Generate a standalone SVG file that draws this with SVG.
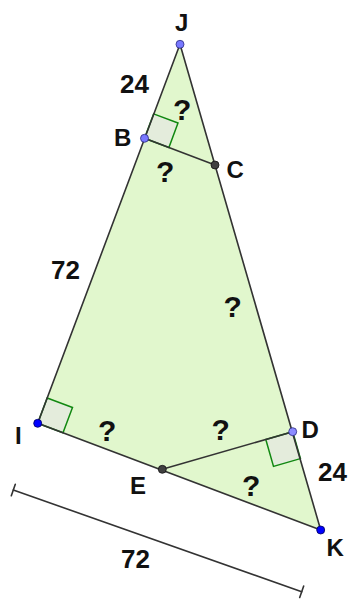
<svg xmlns="http://www.w3.org/2000/svg" width="348" height="603" viewBox="0 0 348 603">
<style>
.side{stroke:#333;stroke-width:1.6;fill:none;stroke-linecap:round}
.ra{fill:#e4ecdc;stroke:#118811;stroke-width:1.5}
.lbl{font-family:"Liberation Sans",Arial,sans-serif;font-weight:bold;font-size:24px;fill:#111}
.num{font-size:26px}
.q{font-size:30px}
.pb{fill:#0000ff;stroke:#00005a;stroke-width:0.8}
.pl{fill:#7878ff;stroke:#2a2a80;stroke-width:0.8}
.pd{fill:#404040;stroke:#111;stroke-width:0.8}
</style>
<rect width="348" height="603" fill="#fff"/>
<g id="triangle">
<polygon points="180,44.3 37.7,423.3 320.7,530" fill="#e1f7cd" stroke="none"/>
</g>
<g id="right-angles">
<polygon class="ra" points="144.5,138.3 153.6,113.9 178,123 168.9,147.5"/>
<polygon class="ra" points="37.7,423.3 47.2,398 72.5,407.5 63,432.8"/>
<polygon class="ra" points="292.7,431.7 265.8,439.5 273.5,466.4 300.4,458.6"/>
</g>
<g id="connectors">
<line class="side" x1="180" y1="44.3" x2="37.7" y2="423.3"/>
<line class="side" x1="180" y1="44.3" x2="320.7" y2="530"/>
<line class="side" x1="37.7" y1="423.3" x2="320.7" y2="530"/>
<line class="side" x1="144.5" y1="138.3" x2="215" y2="165"/>
<line class="side" x1="162.3" y1="469.3" x2="292.7" y2="431.7"/>
<line class="side" x1="13.3" y1="490" x2="301.7" y2="591.7"/>
<line class="side" x1="15.3" y1="484.3" x2="11.3" y2="495.7"/>
<line class="side" x1="303.7" y1="586" x2="299.7" y2="597.4"/>
</g>
<g id="J"><circle class="pl" cx="180" cy="44.3" r="4"/><text class="lbl" x="175" y="31">J</text></g>
<g id="B"><circle class="pl" cx="144.5" cy="138.3" r="4"/><text class="lbl" x="114" y="146">B</text></g>
<g id="C"><circle class="pd" cx="215" cy="165" r="4"/><text class="lbl" x="226.5" y="178">C</text></g>
<g id="I"><circle class="pb" cx="37.7" cy="423.3" r="4"/><text class="lbl" x="15" y="444">I</text></g>
<g id="D"><circle class="pl" cx="292.7" cy="431.7" r="4" style="fill:#8c8cff"/><text class="lbl" x="301.5" y="438">D</text></g>
<g id="E"><circle class="pd" cx="162.3" cy="469.3" r="4"/><text class="lbl" x="130" y="494">E</text></g>
<g id="K"><circle class="pb" cx="320.7" cy="530" r="4"/><text class="lbl" x="326.5" y="556">K</text></g>
<g id="labels">
<text class="lbl num" x="120" y="93">24</text>
<text class="lbl num" x="51" y="279">72</text>
<text class="lbl num" x="318" y="481">24</text>
<text class="lbl num" x="121" y="568">72</text>
<text class="lbl q" x="173" y="120">?</text>
<text class="lbl q" x="156" y="182">?</text>
<text class="lbl q" x="223.5" y="317">?</text>
<text class="lbl q" x="98" y="441">?</text>
<text class="lbl q" x="211.5" y="440">?</text>
<text class="lbl q" x="242" y="496">?</text>
</g>
</svg>
